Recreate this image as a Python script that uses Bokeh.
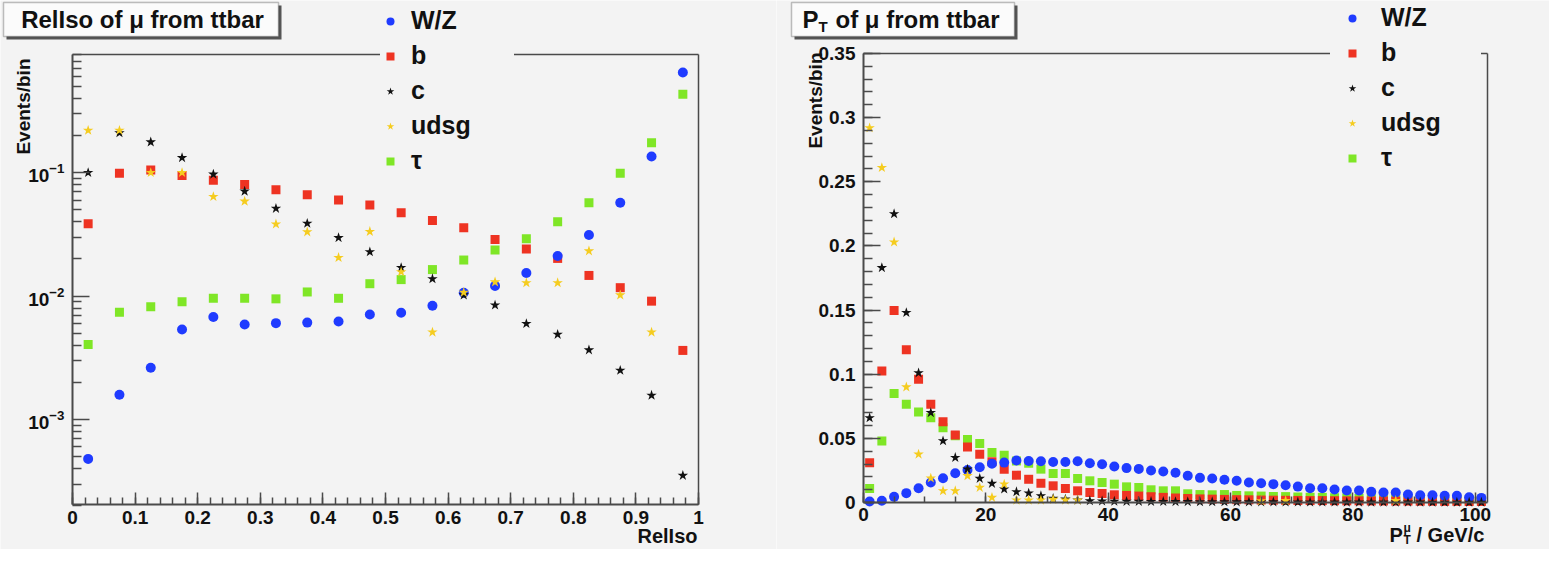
import math
from bokeh.plotting import figure
from bokeh.layouts import row
from bokeh.models import (Range1d, FixedTicker, CustomJSTickFormatter, Label,
                          Legend, LegendItem, LinearAxis, LogAxis, BoxAnnotation)
from bokeh.embed import file_html
from bokeh.resources import INLINE

nan = float("nan")

# ---------------- data: RelIso panel ----------------
reliso_bins = [0.025, 0.075, 0.125, 0.175, 0.225, 0.275, 0.325, 0.375, 0.425, 0.475,
               0.525, 0.575, 0.625, 0.675, 0.725, 0.775, 0.825, 0.875, 0.925, 0.975]
wz_iso = [0.00048, 0.00159, 0.00263, 0.00537, 0.00676, 0.00589, 0.00604, 0.0061, 0.00622, 0.0071,
          0.00733, 0.00834, 0.01064, 0.0121, 0.0154, 0.0211, 0.0313, 0.0571, 0.135, 0.647]
b_iso = [0.0386, 0.099, 0.105, 0.095, 0.0866, 0.080, 0.0728, 0.0663, 0.060, 0.0547,
         0.0474, 0.041, 0.0358, 0.0288, 0.0241, 0.0202, 0.0147, 0.0117, 0.0091, 0.00363]
c_iso = [0.100, 0.21, 0.177, 0.132, 0.097, 0.0706, 0.0513, 0.0388, 0.0297, 0.0228,
         0.017, 0.0138, 0.0102, 0.00845, 0.00598, 0.00489, 0.00366, 0.0025, 0.00157, 0.000352]
udsg_iso = [0.22, 0.22, 0.100, 0.100, 0.0639, 0.0586, 0.0383, 0.0331, 0.0205, 0.0333,
            0.0157, 0.0051, 0.0107, 0.013, 0.0128, 0.0128, 0.0232, 0.0102, 0.0051, nan]
tau_iso = [0.00405, 0.0074, 0.0082, 0.0090, 0.0096, 0.0096, 0.0095, 0.0108, 0.0096, 0.0126,
           0.0136, 0.0164, 0.0196, 0.0236, 0.0292, 0.040, 0.0571, 0.099, 0.175, 0.431]

# ---------------- data: pT panel ----------------
pt_bins = list(range(1, 102, 2))
wz_pt = [0.0008, 0.0013, 0.0044, 0.0073, 0.0111, 0.0156, 0.0189, 0.0228, 0.0254, 0.0275,
         0.0303, 0.0311, 0.0327, 0.0324, 0.0321, 0.0316, 0.0316, 0.0321, 0.0306, 0.0298,
         0.0280, 0.0268, 0.0262, 0.0250, 0.0242, 0.0232, 0.0208, 0.0192, 0.0187, 0.0177,
         0.0169, 0.0156, 0.0150, 0.0143, 0.0135, 0.0124, 0.0111, 0.0111, 0.0101, 0.0093,
         0.0093, 0.0083, 0.0078, 0.0078, 0.0062, 0.0057, 0.0057, 0.0052, 0.0052, 0.0041,
         0.0036]
b_pt = [0.031, 0.1025, 0.1496, 0.119, 0.096, 0.0765, 0.063, 0.0527, 0.0433, 0.0376,
        0.0317, 0.026, 0.0213, 0.0181, 0.015, 0.013, 0.0109, 0.0091, 0.0078, 0.007,
        0.006, 0.0055, 0.005, 0.0045, 0.004, 0.0035, 0.0031, 0.0028, 0.0026, 0.0024,
        0.0022, 0.0021, 0.0019, 0.0018, 0.0017, 0.0016, 0.0015, 0.0015, 0.0014, 0.0013,
        0.0013, 0.0012, 0.0012, 0.0011, 0.0011, 0.001, 0.001, 0.0009, 0.0009, 0.0008,
        0.0008]
c_pt = [0.066, 0.183, 0.225, 0.148, 0.101, 0.070, 0.048, 0.035, 0.026, 0.0187,
        0.0148, 0.0104, 0.0083, 0.0073, 0.0052, 0.0031, 0.0025, 0.0018, 0.0013, 0.0011,
        0.0009, 0.0008, 0.0008, 0.0007, 0.0007, 0.0006, 0.0006, 0.0005, 0.0005, 0.0005,
        0.0004, 0.0004, 0.0004, 0.0004, 0.0003, 0.0003, 0.0003, 0.0003, 0.0003, 0.0002,
        0.0002, 0.0002, 0.0002, 0.0002, 0.0002, 0.0002, 0.0001, 0.0001, 0.0001, 0.0001,
        0.0001]
udsg_pt = [0.292, 0.261, 0.203, 0.090, 0.0376, 0.019, 0.0091, 0.0091, 0.0208, 0.0117,
           0.0039, 0.0143, 0.0018, 0.0018, 0.0018, 0.0023, 0.0018, 0.0018, nan, nan,
           nan, nan, nan, nan, nan, nan, nan, nan, nan, nan,
           nan, nan, 0.0013, nan, 0.0015, nan, nan, nan, nan, nan,
           nan, nan, nan, 0.0015, nan, nan, nan, nan, nan, nan,
           nan]
tau_pt = [0.0109, 0.048, 0.085, 0.0765, 0.0706, 0.066, 0.0583, 0.052, 0.0492, 0.0459,
          0.0389, 0.0368, 0.0324, 0.0306, 0.026, 0.0226, 0.0226, 0.0187, 0.0169, 0.0156,
          0.0143, 0.0122, 0.0117, 0.0099, 0.0091, 0.0091, 0.0068, 0.0062, 0.006, 0.0062,
          0.0055, 0.0052, 0.005, 0.0047, 0.0046, 0.0043, 0.0041, 0.004, 0.0037, 0.0036,
          0.0033, 0.003, 0.0029, 0.0027, 0.0025, 0.0023, 0.0022, 0.002, 0.0019, 0.0018,
          0.0016]

series_names = ["W/Z", "b", "c", "udsg", "τ"]

# axis limits of the two histogram frames
iso_xlim = (0.0, 1.0)
iso_ylim = (2.05e-4, 0.906)
pt_xlim = (0.0, 102.0)
pt_ylim = (0.0, 0.35)

# ---------------- style / geometry (page pixels) ----------------
BG = "#f3f3f3"
AX = "#4a4a4a"
BLUE = "#1f3bff"
RED = "#ee3322"
BLACK = "#111111"
YELLOW = "#f5cc1f"
GREEN = "#7fe626"
FONT = "Liberation Sans"

CANVAS_H = 549
# canvas (left, right, top, bottom) and histogram frame (left, right, top, bottom)
C1 = (8, 784, 8, 8 + CANVAS_H)
F1 = (80, 706, 62, 512)
C2 = (784, 1557, 8, 8 + CANVAS_H)
F2 = (871, 1495, 61, 510)


def lin_ext(v0, v1, p0, p1, c0, c1):
    k = (v1 - v0) / (p1 - p0)
    return v0 + (c0 - p0) * k, v0 + (c1 - p0) * k


def style_axis(ax, tick_in, minor_in, standoff):
    ax.axis_line_color = AX
    ax.axis_line_width = 2
    ax.major_tick_line_color = AX
    ax.minor_tick_line_color = AX
    ax.major_tick_line_width = 1.5
    ax.minor_tick_line_width = 1.5
    ax.major_tick_out = 0
    ax.minor_tick_out = 0
    ax.major_tick_in = tick_in
    ax.minor_tick_in = minor_in
    ax.major_label_standoff = standoff
    ax.major_label_text_font = FONT
    ax.major_label_text_font_style = "bold"
    ax.major_label_text_font_size = "19px"
    ax.major_label_text_color = "#111111"


def frame_lines(p, xlim, ylim, log_y):
    top = LinearAxis(fixed_location=ylim[1], bounds=xlim,
                     ticker=FixedTicker(ticks=[], minor_ticks=[]))
    right = (LogAxis if log_y else LinearAxis)(fixed_location=xlim[1], bounds=ylim,
                                               ticker=FixedTicker(ticks=[], minor_ticks=[]))
    for ax in (top, right):
        ax.axis_line_color = AX
        ax.axis_line_width = 1.5
        ax.major_tick_in = 0
        ax.major_tick_out = 0
        ax.minor_tick_in = 0
        ax.minor_tick_out = 0
    p.add_layout(top, "above")
    p.add_layout(right, "right")


def base_fig(canvas, x_range, y_range, log_y):
    p = figure(frame_width=canvas[1] - canvas[0], frame_height=canvas[3] - canvas[2],
               min_border=0, x_range=x_range, y_range=y_range,
               y_axis_type="log" if log_y else "linear",
               output_backend="svg", toolbar_location=None)
    p.xgrid.visible = False
    p.ygrid.visible = False
    p.background_fill_color = BG
    p.border_fill_color = BG
    p.outline_line_color = None
    return p


def add_markers(p, x, wz, b, c, udsg, tau):
    rg = p.scatter(x, tau, marker="square", size=9, fill_color=GREEN, line_color=None)
    rb = p.scatter(x, b, marker="square", size=9, fill_color=RED, line_color=None)
    rw = p.scatter(x, wz, marker="circle", size=10, fill_color=BLUE, line_color=None)
    rc = p.scatter(x, c, marker="star", size=11, fill_color=BLACK, line_color=None)
    ru = p.scatter(x, udsg, marker="star", size=11, fill_color=YELLOW, line_color=None)
    return [rw, rb, rc, ru, rg]


def make_legend(renderers, canvas, box_left, box_bottom, glyph_w, standoff, label_w):
    items = [LegendItem(label=n, renderers=[r]) for n, r in zip(series_names, renderers)]
    return Legend(items=items, location=(box_left - canvas[0], canvas[3] - box_bottom),
                  orientation="vertical", padding=8, spacing=6,
                  margin=0, glyph_width=glyph_w, glyph_height=20, label_height=28,
                  label_width=label_w, label_standoff=standoff,
                  label_text_font=FONT, label_text_font_style="bold",
                  label_text_font_size="25px", label_text_color="#111111",
                  background_fill_color=BG, background_fill_alpha=1.0,
                  border_line_color=None)


def txt(p, canvas, X, Y, text, size, align="left", baseline="middle", angle=0.0, **kw):
    lab = Label(x=X - canvas[0], y=canvas[3] - Y, x_units="screen", y_units="screen",
                text=text, text_font=FONT, text_font_style="bold", text_font_size=size,
                text_align=align, text_baseline=baseline, angle=angle,
                text_color="#111111", **kw)
    p.add_layout(lab)
    return lab


def title_box(p, canvas, X0, X1, Y0, Y1):
    # shadow then box, in page pixels
    for dx, fill, line in ((3, "#555555", None), (0, "#fbfbfb", "#333333")):
        box = BoxAnnotation(left=X0 + dx - canvas[0], right=X1 + dx - canvas[0],
                            top=canvas[3] - (Y0 + dx), bottom=canvas[3] - (Y1 + dx),
                            left_units="screen", right_units="screen",
                            top_units="screen", bottom_units="screen",
                            fill_color=fill, fill_alpha=1.0,
                            line_color=line, line_width=1.5)
        p.add_layout(box)


# ================= left panel : RelIso (log y) =================
x1 = lin_ext(iso_xlim[0], iso_xlim[1], F1[0], F1[1], C1[0], C1[1])
ly = lin_ext(math.log10(iso_ylim[0]), math.log10(iso_ylim[1]), F1[3], F1[2], C1[3], C1[2])
p1 = base_fig(C1, Range1d(*x1), Range1d(10 ** ly[0], 10 ** ly[1]), True)

xa = p1.xaxis[0]
xa.fixed_location = iso_ylim[0]
xa.bounds = iso_xlim
xa.ticker = FixedTicker(ticks=[i / 10 for i in range(11)], minor_ticks=[i / 50 for i in range(51)])
xa.formatter = CustomJSTickFormatter(code="return String(Math.round(tick*10)/10)")
style_axis(xa, 12, 7, 6)
ya = p1.yaxis[0]
ya.fixed_location = iso_xlim[0]
ya.bounds = iso_ylim
ya.ticker = FixedTicker(ticks=[1e-3, 1e-2, 1e-1],
                        minor_ticks=[m * 10.0 ** e for e in (-4, -3, -2, -1) for m in range(2, 10)])
style_axis(ya, 17, 9, 8)
frame_lines(p1, iso_xlim, iso_ylim, True)

r1 = add_markers(p1, reliso_bins, wz_iso, b_iso, c_iso, udsg_iso, tau_iso)
p1.add_layout(make_legend(r1, C1, 388, 183, 20, 11, 103))

title_box(p1, C1, 11, 286, 10, 44)
txt(p1, C1, 150, 27, "RelIso of μ from ttbar", "24px", align="center")
txt(p1, C1, 31, 66, "Events/bin", "19px", align="right", angle=math.pi / 2)
txt(p1, C1, 705, 543, "RelIso", "20px", align="right")

# ================= right panel : pT (linear y) =================
x2 = lin_ext(pt_xlim[0], pt_xlim[1], F2[0], F2[1], C2[0], C2[1])
y2 = lin_ext(pt_ylim[0], pt_ylim[1], F2[3], F2[2], C2[3], C2[2])
p2 = base_fig(C2, Range1d(*x2), Range1d(*y2), False)

xb = p2.xaxis[0]
xb.fixed_location = pt_ylim[0]
xb.bounds = pt_xlim
xb.ticker = FixedTicker(ticks=[0, 20, 40, 60, 80, 100], minor_ticks=list(range(0, 103, 5)))
style_axis(xb, 10, 6, 5)
yb = p2.yaxis[0]
yb.fixed_location = pt_xlim[0]
yb.bounds = pt_ylim
yb.ticker = FixedTicker(ticks=[i * 0.05 for i in range(8)], minor_ticks=[i / 100 for i in range(36)])
yb.formatter = CustomJSTickFormatter(code="return String(Math.round(tick*100)/100)")
style_axis(yb, 17, 9, 8)
frame_lines(p2, pt_xlim, pt_ylim, False)

r2 = add_markers(p2, pt_bins, wz_pt, b_pt, c_pt, udsg_pt, tau_pt)
p2.add_layout(make_legend(r2, C2, 1338, 180, 44, 7, 100))

title_box(p2, C2, 799, 1022, 10, 44)
txt(p2, C2, 810, 27, "P", "24px")
txt(p2, C2, 826, 34, "T", "15px")
txt(p2, C2, 843, 27, "of μ from ttbar", "24px")
txt(p2, C2, 823, 60, "Events/bin", "19px", align="right", angle=math.pi / 2)
txt(p2, C2, 1397, 542, "P", "20px")
txt(p2, C2, 1411, 547, "T", "12px")
txt(p2, C2, 1411, 535, "μ", "12px")
txt(p2, C2, 1424, 542, "/ GeV/c", "20px")

layout = row(p1, p2)
open("out.html", "w").write(file_html(layout, INLINE))
